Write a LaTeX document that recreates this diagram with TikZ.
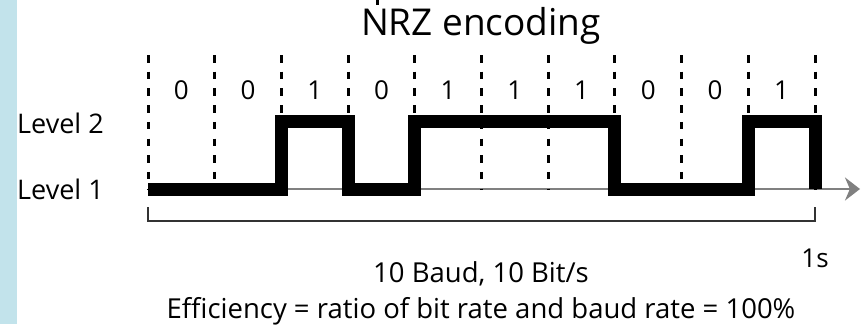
\documentclass[tikz,border=0pt]{standalone}
\usepackage{fontspec}
\setmainfont{Open Sans}
\usepackage{xcolor}
\usetikzlibrary{arrows.meta, positioning, calc}

\definecolor{stripblue}{RGB}{194,227,235}
\definecolor{axisgray}{RGB}{128,128,128}

\begin{document}
\begin{tikzpicture}[
    x=1pt, y=-1pt,
    >={Stealth[length=15pt, width=23pt]},
    grid/.style    = {draw=black, line width=3pt, dash pattern=on 7.5pt off 9.2pt},
    signal/.style  = {draw=black, line width=13pt, line join=miter, line cap=butt},
    axis/.style    = {->, draw=axisgray, fill=axisgray, line width=2.5pt},
    bracket/.style = {draw=black!80, line width=2pt},
    bit/.style     = {font=\fontsize{26}{30}\selectfont, anchor=base, inner sep=0pt},
    lvl/.style     = {font=\fontsize{27}{32}\selectfont, anchor=base west, inner sep=0pt},
    txt/.style     = {font=\fontsize{27.5}{32}\selectfont, anchor=base, inner sep=0pt},
    ttl/.style     = {font=\fontsize{37}{42}\selectfont, anchor=base, inner sep=0pt}
]

\useasboundingbox (0,0) rectangle (861,324);
\fill[stripblue] (0,0) rectangle (17,324);

% ---------------- bit boundaries ----------------
\foreach \k in {0,...,10} {
  \coordinate (t\k) at (148+66.7*\k, 55);
  \coordinate (b\k) at (148+66.7*\k, 189);
}
\coordinate (hi)    at (0, 121.5);
\coordinate (axend) at (860, 189);

% ---------------- time axis ----------------
\draw[axis] (b0) -- (axend);

% ---------------- dashed bit grid ----------------
\foreach \k in {0,...,10}
  \draw[grid] (t\k) -- (b\k);

% ---------------- NRZ signal ----------------
\draw[signal] (b0) -- (b2) -- (b2 |- hi) -- (b3 |- hi) -- (b3) -- (b4)
              -- (b4 |- hi) -- (b7 |- hi) -- (b7) -- (b9)
              -- (b9 |- hi) -- (b10 |- hi) -- (b10);

% ---------------- bit values ----------------
\foreach \k/\v in {0/0,1/0,2/1,3/0,4/1,5/1,6/1,7/0,8/0,9/1}
  \node[bit] (bit\k) at (181.35+66.7*\k, 99) {\v};

% ---------------- level labels ----------------
\node[lvl] (lvl2) at (17,133) {Level 2};
\node[lvl] (lvl1) at (17,199) {Level 1};

% ---------------- one second bracket ----------------
\draw[bracket] ([yshift=-18pt]b0) -- ([yshift=-32pt]b0)
               -- ([yshift=-32pt]b10) -- ([yshift=-18pt]b10);
\node[txt,font=\fontsize{26}{30}\selectfont] (dur) at (815,267) {1s};

% ---------------- title and notes ----------------
\fill (376,0) rectangle (379,5);
\node[ttl] (title) at (481,35)  {NRZ encoding};
\node[txt] (rate)  at (481,282) {10 Baud, 10 Bit/s};
\node[txt] (eff)   at (481,318.5) {Efficiency = ratio of bit rate and baud rate = 100\%};

\end{tikzpicture}
\end{document}
